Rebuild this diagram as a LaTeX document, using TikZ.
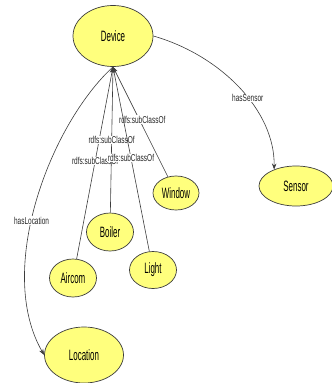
\documentclass[tikz,border=0pt]{standalone}
\usepackage{fontspec}
\setmainfont{Liberation Sans}
\newfontfamily\nodefont[FakeStretch=0.53]{Liberation Sans}
\newfontfamily\edgefont[FakeStretch=0.65]{Liberation Sans}
\usetikzlibrary{shapes.geometric,arrows.meta}
\definecolor{nodeyellow}{RGB}{255,255,125}
\definecolor{linegray}{RGB}{60,60,60}
\begin{document}
\begin{tikzpicture}[x=1pt,y=-1pt,
  cls/.style={ellipse,draw=linegray,line width=0.7pt,fill=nodeyellow,inner sep=0pt,
              font=\nodefont\fontsize{15}{15}\selectfont},
  rel/.style={draw=linegray,line width=0.6pt},
  lbl/.style={fill=white,inner sep=0.5pt,font=\edgefont\fontsize{10}{10}\selectfont,text=black!85},
  tip/.style={-{Stealth[length=6pt,width=4.5pt]}}]
\useasboundingbox (0,0) rectangle (332,383);
\clip (0,0) rectangle (332,383);

\node[cls,minimum width=80pt,minimum height=61pt] (Device) at (113,36) {Device};
\node[cls,minimum width=74pt,minimum height=40pt] (Sensor) at (296,186) {Sensor};
\node[cls,minimum width=46pt,minimum height=34pt] (Window) at (176,193) {Window};
\node[cls,minimum width=47pt,minimum height=38pt] (Boiler) at (110,232) {Boiler};
\node[cls,minimum width=47pt,minimum height=38pt] (Aircom) at (73,278) {Aircom};
\node[cls,minimum width=47pt,minimum height=37pt] (Light) at (153,270) {Light};
\node[cls,minimum width=79pt,minimum height=56pt] (Location) at (84,355) {Location};

\coordinate (dvs) at (Device.south);

\draw[rel,tip] (Aircom) -- node[lbl,pos=0.51] (l1) {rdfs:subClassOf} (dvs);
\draw[rel,tip] (Boiler) -- node[lbl,pos=0.50] (l2) {rdfs:subClassOf} (dvs);
\draw[rel,tip] (Window) -- node[lbl,pos=0.52,xshift=3pt] (l3) {rdfs:subClassOf} (dvs);
\draw[rel,tip] (Light) -- node[lbl,pos=0.505] (l4) {rdfs:subClassOf} (dvs);

\draw[rel,tip] (dvs) .. controls (50,125) and (-5,270) .. node[lbl,pos=0.56] (l5) {hasLocation} (Location.west);
\draw[rel,tip] (Device.east) .. controls (220,55) and (275,110) .. node[lbl,pos=0.57] (l6) {hasSensor} (Sensor.143);
\end{tikzpicture}
\end{document}
